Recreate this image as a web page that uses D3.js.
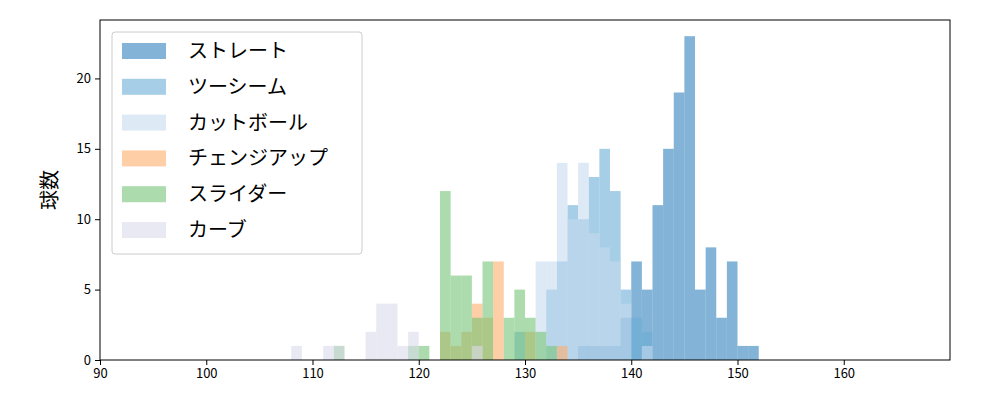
<!DOCTYPE html>
<html><head><meta charset="utf-8">
<script src="https://cdn.jsdelivr.net/npm/d3@7"></script>
<style>body{margin:0;background:#fff}text{font-family:"Noto Sans CJK JP","DejaVu Sans",sans-serif}</style>
</head><body><svg id="chart" width="1000" height="400"></svg>
<script>
// bin start (km/h) -> count, bins are 1 km/h wide
var names = ["ストレート", "ツーシーム", "カットボール", "チェンジアップ", "スライダー", "カーブ"];
var colors = ["#3182bd", "#6baed6", "#c6dbef", "#fdae6b", "#74c476", "#dadaeb"];
var straight = [[135,1],[136,1],[137,1],[138,1],[139,3],[140,7],[141,5],[142,11],[143,15],[144,19],[145,23],[146,5],[147,8],[148,3],[149,7],[150,1],[151,1]];
var twoSeam = [[129,2],[132,5],[133,7],[134,11],[135,10],[136,13],[137,15],[138,12],[139,5],[140,3],[141,2]];
var cutter = [[131,7],[132,7],[133,14],[134,10],[135,14],[136,9],[137,8],[138,7],[139,4],[141,1]];
var changeup = [[122,2],[123,1],[124,2],[125,4],[126,3],[127,7],[130,2],[133,1]];
var slider = [[112,1],[119,1],[120,1],[122,12],[123,6],[124,6],[125,3],[126,7],[128,3],[129,5],[130,3],[131,2],[132,1]];
var curve = [[108,1],[111,1],[112,1],[115,2],[116,4],[117,4],[118,1],[119,2],[125,1]];
var series = [straight, twoSeam, cutter, changeup, slider, curve];
var xTicks = [90, 100, 110, 120, 130, 140, 150, 160];
var yTicks = [0, 5, 10, 15, 20];

var svg = d3.select("#chart");
var x = d3.scaleLinear().domain([90, 170]).range([100, 950]);
var y = d3.scaleLinear().domain([0, 24.15]).range([360, 20]);

series.forEach(function (s, i) {
    svg.append("g").selectAll("rect").data(s).enter().append("rect")
        .attr("x", function (d) { return x(d[0]); })
        .attr("width", function (d) { return x(d[0] + 1) - x(d[0]); })
        .attr("y", function (d) { return y(d[1]); })
        .attr("height", function (d) { return y(0) - y(d[1]); })
        .attr("fill", colors[i]).attr("fill-opacity", 0.6);
});

var xa = svg.append("g").attr("transform", "translate(0,360)")
    .call(d3.axisBottom(x).tickValues(xTicks).tickSize(5).tickPadding(4));
var ya = svg.append("g").attr("transform", "translate(100,0)")
    .call(d3.axisLeft(y).tickValues(yTicks).tickSize(5).tickPadding(4));
[xa, ya].forEach(function (a) {
    a.select(".domain").remove();
    a.selectAll("text").style("font-size", "13px").attr("fill", "#000");
    a.selectAll("line").attr("stroke", "#000");
});
svg.append("rect").attr("x", 100).attr("y", 20).attr("width", 850).attr("height", 340)
    .attr("fill", "none").attr("stroke", "#000").attr("stroke-width", 1);

svg.append("text").attr("transform", "translate(57,190) rotate(-90)")
    .attr("text-anchor", "middle").style("font-size", "20px").text("球数");

var lg = svg.append("g");
lg.append("rect").attr("x", 112).attr("y", 32).attr("width", 250).attr("height", 222)
    .attr("rx", 3).attr("fill", "#fff").attr("fill-opacity", 0.8).attr("stroke", "#ccc");
names.forEach(function (n, i) {
    var cy = 51 + i * 35.8;
    lg.append("rect").attr("x", 122).attr("y", cy - 8).attr("width", 44).attr("height", 16)
        .attr("fill", colors[i]).attr("fill-opacity", 0.6);
    lg.append("text").attr("x", 188).attr("y", cy + 7).style("font-size", "20px").text(n);
});
</script></body></html>
